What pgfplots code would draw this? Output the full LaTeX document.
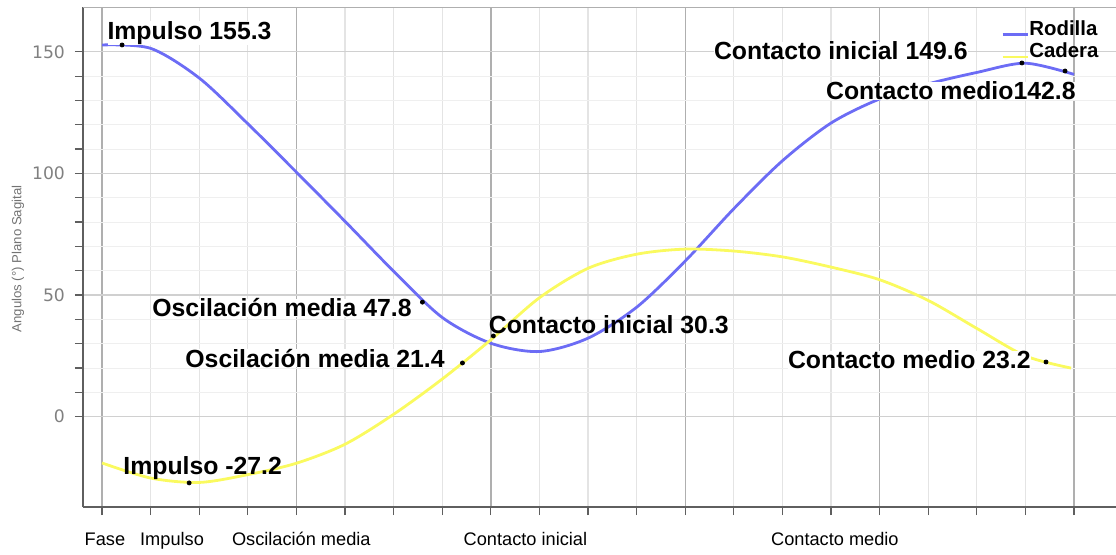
\documentclass[border=0pt]{standalone}
\usepackage{fontspec}
\setmainfont{Liberation Sans}
\newfontfamily\tickfont{DejaVu Sans}
\usepackage{pgfplots}
\pgfplotsset{compat=1.18}

\definecolor{rodilla}{RGB}{108,108,245}
\definecolor{cadera}{RGB}{250,250,95}
\definecolor{gridmaj}{RGB}{175,175,175}
\definecolor{gridmin}{RGB}{228,228,228}
\definecolor{spine}{RGB}{95,95,95}

\begin{document}
\begin{tikzpicture}
\useasboundingbox (0,0) rectangle (558pt,277pt);
\begin{axis}[
    at={(41.5pt,23.5pt)}, anchor=south west,
    scale only axis,
    width=516.5pt, height=250pt,
    xmin=-0.098, xmax=5.216,
    ymin=-37.1, ymax=168.4,
    axis x line*=bottom, axis y line*=left,
    axis line style={spine, line width=1pt},
    xtick={0,1,2,3,4,5},
    xticklabels={},
    minor x tick num=3,
    ytick={0,50,100,150},
    minor y tick num=4,
    tick align=outside,
    tick style={spine, line width=0.6pt},
    major tick length=4pt, minor tick length=4pt,
    grid=both,
    major x grid style={gridmaj, line width=0.7pt},
    minor x grid style={gridmin, line width=0.6pt},
    major y grid style={gridmin!80!gray, line width=0.6pt},
    minor y grid style={gridmin!60!white, line width=0.5pt},
    yticklabel style={text=black!50, font=\tickfont\fontsize{8.6}{10}\selectfont, xshift=-1.5pt},
    /pgf/number format/assume math mode=true,
    ylabel={Angulos (°) Plano Sagital},
    ylabel style={at={(axis description cs:-0.063,0.496)}, anchor=center, text=black!55, font=\fontsize{6.6}{7}\selectfont},
    extra x ticks={0.015,0.36,1.025,2.178,3.77},
    extra x tick labels={Fase,Impulso,Oscilación media,Contacto inicial,Contacto medio},
    extra x tick style={grid=none, tick style={draw=none},
        xticklabel style={font=\fontsize{9.1}{10}\selectfont, anchor=base, yshift=-15pt}},
    legend style={at={(rel axis cs:0.986,0.986)}, anchor=north east, draw=none, fill=none,
        font=\bfseries\fontsize{10.2}{11.5}\selectfont, row sep=-1.5pt, inner sep=1pt,
        nodes={inner xsep=0.3pt}},
    legend cell align=left,
    legend image code/.code={\draw[#1, line width=1.2pt] (0pt,-2.5pt) -- (12.5pt,-2.5pt);},
]
\draw[gridmaj, line width=0.8pt] (rel axis cs:0,1) -- (rel axis cs:1,1);

\addplot[rodilla, line width=1.4pt, smooth] coordinates {
(0,152.8) (0.25,151.4) (0.5,139.2) (0.75,120.4) (1.0,100.5)
(1.25,80.3) (1.5,59.8) (1.75,40.8) (2.0,30.2) (2.25,26.8)
(2.5,32.3) (2.75,45.0) (3.0,64.0) (3.25,85.5) (3.5,105.2)
(3.75,120.7) (4.0,130.6) (4.25,136.8) (4.5,141.5) (4.75,145.3)
(5.0,140.7)
};
\addlegendentry{Rodilla}

\addplot[cadera, line width=1.4pt, smooth] coordinates {
(0,-19.0) (0.25,-25.2) (0.5,-27.0) (0.75,-23.8) (1.0,-19.1)
(1.25,-11.3) (1.5,1.0) (1.75,15.5) (2.0,31.6) (2.25,48.9)
(2.5,61.0) (2.75,66.8) (3.0,68.9) (3.25,68.1) (3.5,65.7)
(3.75,61.5) (4.0,56.3) (4.25,47.8) (4.5,36.3) (4.75,25.0)
(4.985,20.0)
};
\addlegendentry{Cadera}

\addplot[only marks, mark=*, mark size=1pt, black, forget plot] coordinates {
(0.103,152.8) (1.648,47.1) (4.732,145.4) (4.954,142.1)
(0.448,-27.2) (1.854,22.1) (2.013,33.2) (4.856,22.5)
};

\begin{scope}[every node/.style={anchor=west, inner sep=0pt, fill=white,
    font=\bfseries\fontsize{12.4}{14}\selectfont}]
\node at (axis cs:0.026,157.7) {Impulso 155.3};
\node at (axis cs:3.146,150.3) {Contacto inicial 149.6};
\node at (axis cs:3.723,133.9) {Contacto medio142.8};
\node at (axis cs:0.257,44.7) {Oscilación media 47.8};
\node at (axis cs:0.427,24.1) {Oscilación media 21.4};
\node[fill=none] at (axis cs:1.988,37.7) {Contacto inicial 30.3};
\node at (axis cs:3.527,23.3) {Contacto medio 23.2};
\node[fill=none] at (axis cs:0.108,-21.1) {Impulso -27.2};
\end{scope}
\end{axis}
\end{tikzpicture}
\end{document}
